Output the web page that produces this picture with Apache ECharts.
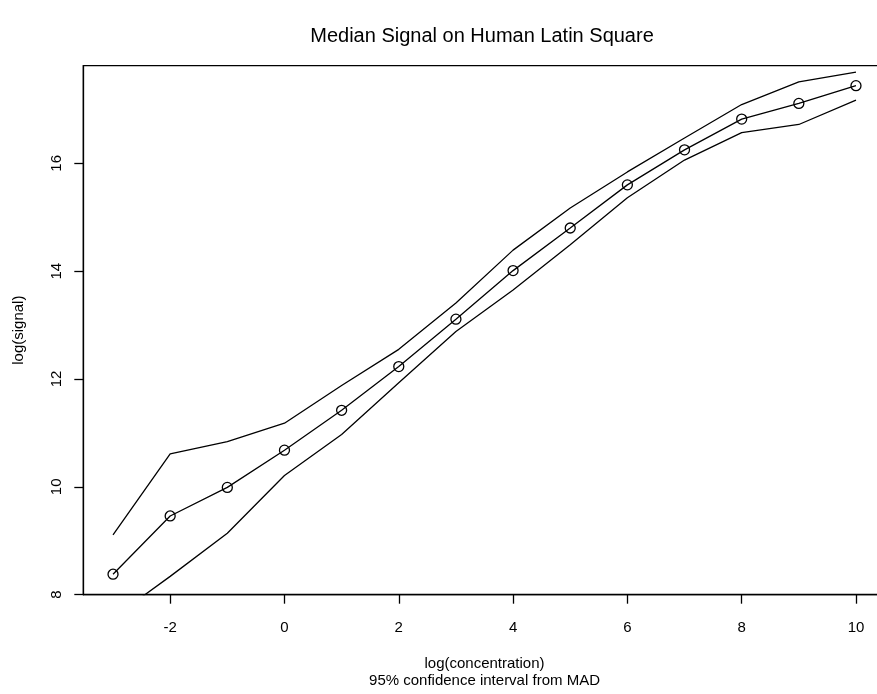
<!DOCTYPE html>
<html>
<head>
<meta charset="utf-8">
<script src="https://cdn.jsdelivr.net/npm/echarts@6/dist/echarts.min.js"></script>
<style>
html,body{margin:0;padding:0;background:#fff;}
#chart{width:877px;height:694px;}
</style>
</head>
<body>
<div id="chart"></div>
<script>
// Data
var concentration = [-3, -2, -1, 0, 1, 2, 3, 4, 5, 6, 7, 8, 9, 10];
var medianSignal = [8.38, 9.46, 9.99, 10.68, 11.42, 12.23, 13.11, 14.01, 14.80, 15.60, 16.25, 16.82, 17.11, 17.44];
var upperSignal  = [9.11, 10.61, 10.84, 11.18, 11.88, 12.55, 13.41, 14.39, 15.17, 15.84, 16.47, 17.09, 17.51, 17.69];
var lowerSignal  = [7.57, 8.34, 9.14, 10.21, 10.97, 11.93, 12.88, 13.65, 14.49, 15.36, 16.06, 16.57, 16.72, 17.17];
var xTicks = [-2, 0, 2, 4, 6, 8, 10];
var yTicks = [8, 10, 12, 14, 16];

function pairs(ys) {
  return concentration.map(function (x, i) { return [x, ys[i]]; });
}

var FONT = '"Liberation Sans", Arial, Helvetica, sans-serif';
var chart = echarts.init(document.getElementById('chart'), null, {renderer: 'canvas'});

var lineCommon = {
  type: 'line',
  clip: true,
  showSymbol: false,
  symbol: 'none',
  lineStyle: {color: '#000', width: 1.3},
  silent: true,
  animation: false
};

chart.setOption({
  backgroundColor: '#fff',
  animation: false,
  title: {
    text: 'Median Signal on Human Latin Square',
    left: 477,
    top: 21,
    textAlign: 'center',
    textStyle: {fontFamily: FONT, fontSize: 20, fontWeight: 'normal', color: '#000'}
  },
  grid: {
    left: 83.3,
    top: 65.7,
    width: 802.4,
    height: 529,
    show: true,
    borderColor: '#000',
    borderWidth: 1.3,
    backgroundColor: 'transparent',
    containLabel: false,
    outerBoundsMode: 'none'
  },
  xAxis: {
    type: 'value',
    min: -3.52,
    max: 10.52,
    splitLine: {show: false},
    axisLine: {show: true, onZero: false, lineStyle: {color: '#000', width: 1.3}},
    axisTick: {show: true, length: 9, lineStyle: {color: '#000', width: 1.3}, customValues: xTicks},
    axisLabel: {show: true, margin: 26, fontFamily: FONT, fontSize: 15, color: '#000', customValues: xTicks,
      formatter: function (v) { return String(v); }},
    name: 'log(concentration)\n95% confidence interval from MAD',
    nameLocation: 'middle',
    nameGap: 61,
    nameTextStyle: {fontFamily: FONT, fontSize: 15, color: '#000', lineHeight: 17}
  },
  yAxis: {
    type: 'value',
    min: 8,
    max: 17.81,
    splitLine: {show: false},
    axisLine: {show: true, onZero: false, lineStyle: {color: '#000', width: 1.3}},
    axisTick: {show: true, length: 9, lineStyle: {color: '#000', width: 1.3}, customValues: yTicks},
    axisLabel: {show: true, rotate: 90, margin: 19, fontFamily: FONT, fontSize: 15, color: '#000', customValues: yTicks,
      formatter: function (v) { return String(v); }},
    name: 'log(signal)',
    nameLocation: 'middle',
    nameRotate: 90,
    nameGap: 57,
    nameTextStyle: {fontFamily: FONT, fontSize: 15, color: '#000'}
  },
  series: [
    Object.assign({}, lineCommon, {name: 'upper', data: pairs(upperSignal)}),
    Object.assign({}, lineCommon, {name: 'lower', data: pairs(lowerSignal)}),
    {
      name: 'median',
      type: 'line',
      clip: true,
      data: pairs(medianSignal),
      symbol: 'circle',
      symbolSize: 10,
      showSymbol: true,
      lineStyle: {color: '#000', width: 1.3},
      itemStyle: {color: 'rgba(0,0,0,0)', borderColor: '#000', borderWidth: 1.3},
      silent: true,
      animation: false
    }
  ]
});
</script>
</body>
</html>
